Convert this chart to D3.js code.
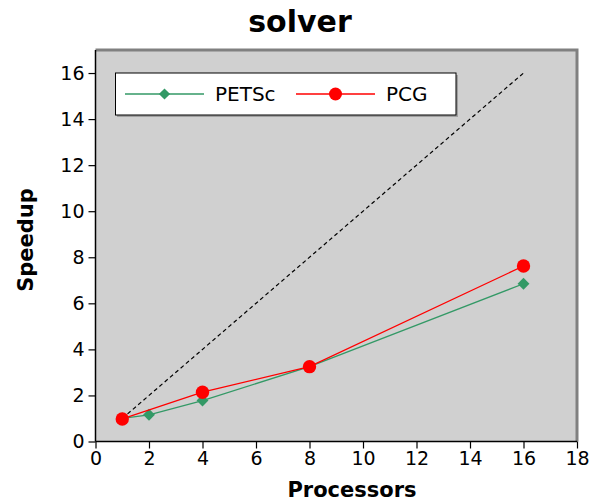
<!DOCTYPE html>
<html>
<head>
<meta charset="utf-8">
<script src="https://cdn.jsdelivr.net/npm/d3@7"></script>
<style>
  body { margin: 0; background: #fff; }
  text { font-family: "DejaVu Sans", sans-serif; }
</style>
</head>
<body>
<script>
var width = 600;
var height = 503;

// data
var processorsPetsc = [1, 2, 4, 8, 16];
var speedupPetsc = [1.0, 1.16, 1.78, 3.25, 6.85];
var processorsPcg = [1, 4, 8, 16];
var speedupPcg = [0.98, 2.14, 3.25, 7.62];
var idealX = [1, 16];
var idealY = [1, 16];
var xTicks = [0, 2, 4, 6, 8, 10, 12, 14, 16, 18];
var yTicks = [0, 2, 4, 6, 8, 10, 12, 14, 16];

var plotLeft = 95.5, plotRight = 577, plotTop = 50, plotBottom = 441.5;

var x = d3.scaleLinear().domain([0, 18]).range([plotLeft, plotRight]);
var y = d3.scaleLinear().domain([0, 17]).range([plotBottom, plotTop]);

var svg = d3.select("body").append("svg").attr("width", width).attr("height", height);

// plot background + frame
svg.append("rect").attr("x", plotLeft).attr("y", plotTop)
    .attr("width", plotRight - plotLeft).attr("height", plotBottom - plotTop)
    .attr("fill", "#d0d0d0");
svg.append("path").attr("d", "M" + plotLeft + "," + plotTop + "H" + plotRight + "V" + plotBottom)
    .attr("fill", "none").attr("stroke", "#808080").attr("stroke-width", 3);

// axes
var xAxis = svg.append("g").attr("transform", "translate(0," + plotBottom + ")")
    .call(d3.axisBottom(x).tickValues(xTicks).tickSize(7).tickPadding(3).tickFormat(d3.format("d")));
var yAxis = svg.append("g").attr("transform", "translate(" + plotLeft + ",0)")
    .call(d3.axisLeft(y).tickValues(yTicks).tickSize(7).tickPadding(4).tickFormat(d3.format("d")));
[xAxis, yAxis].forEach(function (g) {
    g.select(".domain").attr("stroke", "#000").attr("stroke-width", 1.5);
    g.selectAll(".tick line").attr("stroke", "#000").attr("stroke-width", 1.2);
    g.selectAll(".tick text").attr("font-family", "DejaVu Sans").attr("font-size", "19px").attr("fill", "#000");
});
xAxis.select(".domain").attr("d", "M" + plotLeft + ",0H" + plotRight);
yAxis.select(".domain").attr("d", "M0," + plotBottom + "V" + plotTop);

// ideal speedup
svg.append("line").attr("x1", x(idealX[0])).attr("y1", y(idealY[0]))
    .attr("x2", x(idealX[1])).attr("y2", y(idealY[1]))
    .attr("stroke", "#000").attr("stroke-width", 1.2).attr("stroke-dasharray", "4,3");

var line = d3.line().x(function (d) { return x(d[0]); }).y(function (d) { return y(d[1]); });

var petsc = d3.zip(processorsPetsc, speedupPetsc);
var pcg = d3.zip(processorsPcg, speedupPcg);

svg.append("path").datum(petsc).attr("d", line).attr("fill", "none").attr("stroke", "#339966").attr("stroke-width", 1.3);
svg.selectAll(".petsc").data(petsc).enter().append("path").attr("class", "petsc")
    .attr("d", d3.symbol(d3.symbolDiamond2, 90))
    .attr("transform", function (d) { return "translate(" + x(d[0]) + "," + y(d[1]) + ")"; })
    .attr("fill", "#339966");

svg.append("path").datum(pcg).attr("d", line).attr("fill", "none").attr("stroke", "#ff0000").attr("stroke-width", 1.3);
svg.selectAll(".pcg").data(pcg).enter().append("circle").attr("class", "pcg")
    .attr("cx", function (d) { return x(d[0]); }).attr("cy", function (d) { return y(d[1]); })
    .attr("r", 6.7).attr("fill", "#ff0000");

// legend
var lg = svg.append("g");
lg.append("rect").attr("x", 117).attr("y", 75).attr("width", 341).attr("height", 42).attr("fill", "#a0a0a0");
lg.append("rect").attr("x", 115.5).attr("y", 73).attr("width", 340.5).attr("height", 42)
    .attr("fill", "#fff").attr("stroke", "#000").attr("stroke-width", 1);
lg.append("line").attr("x1", 125).attr("x2", 204).attr("y1", 94).attr("y2", 94).attr("stroke", "#339966").attr("stroke-width", 1.3);
lg.append("path").attr("d", d3.symbol(d3.symbolDiamond2, 80)).attr("transform", "translate(164.5,94)").attr("fill", "#339966");
lg.append("text").attr("x", 215).attr("y", 101).attr("font-size", "20px").text("PETSc");
lg.append("line").attr("x1", 296).attr("x2", 375).attr("y1", 94).attr("y2", 94).attr("stroke", "#ff0000").attr("stroke-width", 1.3);
lg.append("circle").attr("cx", 335.5).attr("cy", 94).attr("r", 6.5).attr("fill", "#ff0000");
lg.append("text").attr("x", 386).attr("y", 101).attr("font-size", "20px").text("PCG");

// titles
svg.append("text").attr("x", 300).attr("y", 32).attr("text-anchor", "middle")
    .attr("font-size", "30px").attr("font-weight", "bold").text("solver");
svg.append("text").attr("x", 352).attr("y", 497).attr("text-anchor", "middle")
    .attr("font-size", "21px").attr("font-weight", "bold").text("Processors");
svg.append("text").attr("transform", "translate(33,240) rotate(-90)").attr("text-anchor", "middle")
    .attr("font-size", "21px").attr("font-weight", "bold").text("Speedup");
</script>
</body>
</html>
